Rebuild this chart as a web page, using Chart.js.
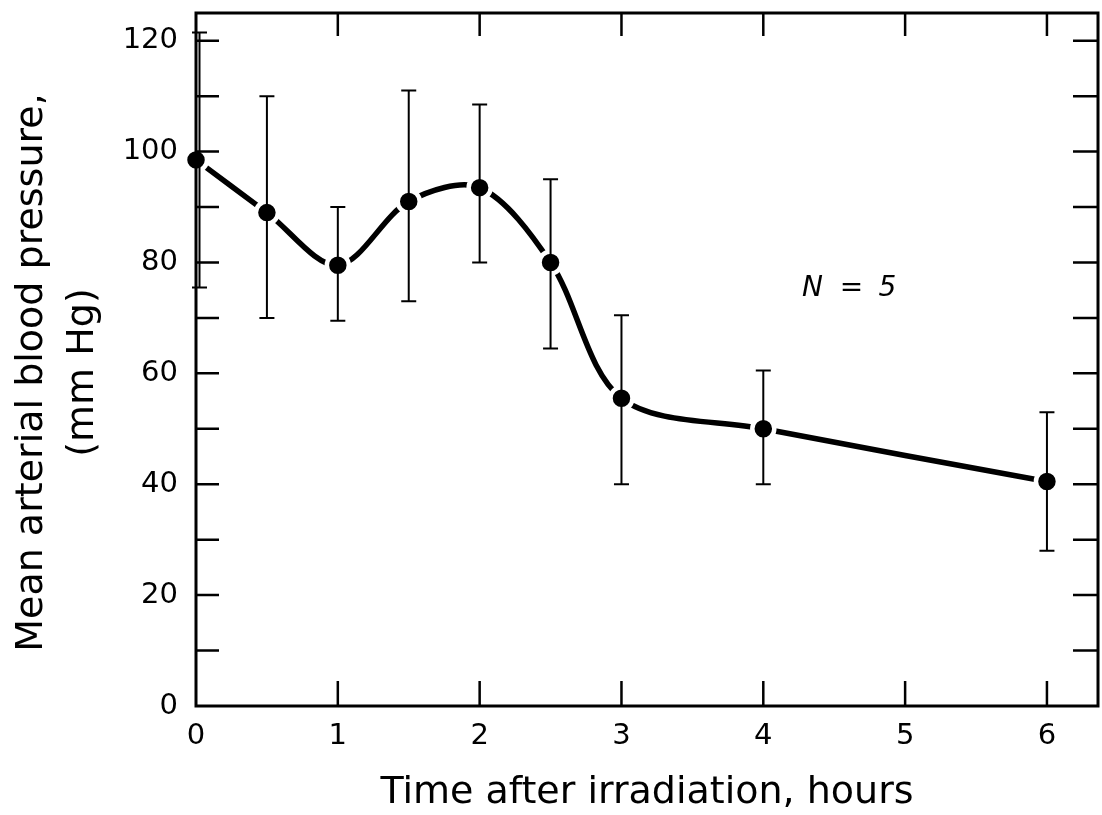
<!DOCTYPE html>
<html>
<head>
<meta charset="utf-8">
<script src="https://cdn.jsdelivr.net/npm/chart.js@4"></script>
<style>
  body { margin: 0; background: #fff; }
  canvas { display: block; }
</style>
</head>
<body>
<canvas id="grafico" width="1102" height="815"></canvas>
<script>
// datos
let horas = [0, 0.5, 1, 1.5, 2, 2.5, 3, 4, 6];
let presionMedia = [98.5, 89, 79.5, 91, 93.5, 80, 55.5, 50, 40.5];
let errorBajo = [75.5, 70, 69.5, 73, 80, 64.5, 40, 40, 28];
let errorAlto = [121.5, 110, 90, 111, 108.5, 95, 70.5, 60.5, 53];

let ticksX = [0, 1, 2, 3, 4, 5, 6];
let ticksY = [0, 10, 20, 30, 40, 50, 60, 70, 80, 90, 100, 110, 120];

let tituloX = "Time after irradiation, hours";
let tituloY = ["Mean arterial blood pressure,", "(mm Hg)"];

let fuente = "DejaVu Sans";

// barras de error, marco y ticks hacia adentro
const marcoYErrores = {
    id: "marcoYErrores",
    afterDatasetsDraw(chart) {
        const { ctx, chartArea: a, scales: { x, y } } = chart;
        ctx.save();
        ctx.strokeStyle = "#000";
        ctx.lineWidth = 2;
        horas.forEach((t, i) => {
            let px = x.getPixelForValue(t);
            // si cae sobre el marco lo corro un poco para que se vea
            if (Math.abs(px - a.left) < 2) px = a.left + 3.5;
            let arriba = y.getPixelForValue(errorAlto[i]);
            let abajo = y.getPixelForValue(errorBajo[i]);
            ctx.beginPath();
            ctx.moveTo(px, arriba); ctx.lineTo(px, abajo);
            ctx.moveTo(px - 7.5, arriba); ctx.lineTo(px + 7.5, arriba);
            ctx.moveTo(px - 7.5, abajo); ctx.lineTo(px + 7.5, abajo);
            ctx.stroke();
        });

        ctx.lineWidth = 3;
        ctx.strokeRect(a.left, a.top, a.right - a.left, a.bottom - a.top);

        ctx.lineWidth = 2.5;
        ctx.beginPath();
        ticksY.filter(v => v > 0).forEach(v => {
            let py = y.getPixelForValue(v);
            ctx.moveTo(a.left, py); ctx.lineTo(a.left + 23, py);
            ctx.moveTo(a.right, py); ctx.lineTo(a.right - 25, py);
        });
        ticksX.filter(v => v > 0).forEach(v => {
            let px = x.getPixelForValue(v);
            ctx.moveTo(px, a.bottom); ctx.lineTo(px, a.bottom - 25);
            ctx.moveTo(px, a.top); ctx.lineTo(px, a.top + 23);
        });
        ctx.stroke();
        ctx.restore();
    },
    afterDraw(chart) {
        const { ctx, chartArea: a, scales: { x, y } } = chart;
        ctx.save();
        ctx.fillStyle = "#000";

        // titulo eje x
        ctx.font = `38px "${fuente}"`;
        ctx.textAlign = "center";
        ctx.textBaseline = "alphabetic";
        ctx.fillText(tituloX, (a.left + a.right) / 2, 803);

        // titulo eje y (dos lineas)
        let centroY = (a.top + a.bottom) / 2 + 13;
        [42, 93].forEach((bx, i) => {
            ctx.save();
            ctx.translate(bx, centroY);
            ctx.rotate(-Math.PI / 2);
            ctx.fillText(tituloY[i], 0, 0);
            ctx.restore();
        });

        // N = 5
        ctx.font = `italic 28px "${fuente}"`;
        let cx = x.getPixelForValue(4.6);
        let cy = y.getPixelForValue(74);
        ctx.fillText("N", cx - 36, cy);
        ctx.fillText("=", cx + 3, cy);
        ctx.fillText("5", cx + 39, cy);
        ctx.restore();
    }
};

let puntos = horas.map((t, i) => ({ x: t, y: presionMedia[i] }));

new Chart(document.getElementById("grafico"), {
    type: "line",
    data: {
        datasets: [{
            data: puntos,
            borderColor: "#000",
            borderWidth: 5.5,
            tension: 0.32,
            pointRadius: 11,
            pointBackgroundColor: "#000",
            pointBorderColor: "#fff",
            pointBorderWidth: 4.5,
            clip: false
        }]
    },
    options: {
        responsive: false,
        animation: false,
        layout: { autoPadding: false, padding: { top: 13, right: 4, left: 0, bottom: 0 } },
        plugins: { legend: { display: false }, tooltip: { enabled: false } },
        scales: {
            x: {
                type: "linear",
                min: 0,
                max: 6.36,
                afterBuildTicks: s => { s.ticks = ticksX.map(v => ({ value: v })); },
                afterFit: s => {
                    s.height = 109;
                    s.paddingLeft = 0;
                    s.paddingRight = 0;
                },
                ticks: {
                    color: "#000",
                    font: { family: fuente, size: 29 },
                    padding: 13,
                    maxRotation: 0,
                    autoSkip: false
                },
                grid: { display: false, drawTicks: false },
                border: { display: false }
            },
            y: {
                type: "linear",
                min: 0,
                max: 125,
                afterBuildTicks: s => { s.ticks = ticksY.map(v => ({ value: v })); },
                afterFit: s => {
                    s.width = 196;
                    s.paddingTop = 0;
                    s.paddingBottom = 0;
                },
                ticks: {
                    color: "#000",
                    font: { family: fuente, size: 29 },
                    padding: 18,
                    autoSkip: false,
                    callback: v => (v % 20 === 0 ? v : "")
                },
                grid: { display: false, drawTicks: false },
                border: { display: false }
            }
        }
    },
    plugins: [marcoYErrores]
});
</script>
</body>
</html>
